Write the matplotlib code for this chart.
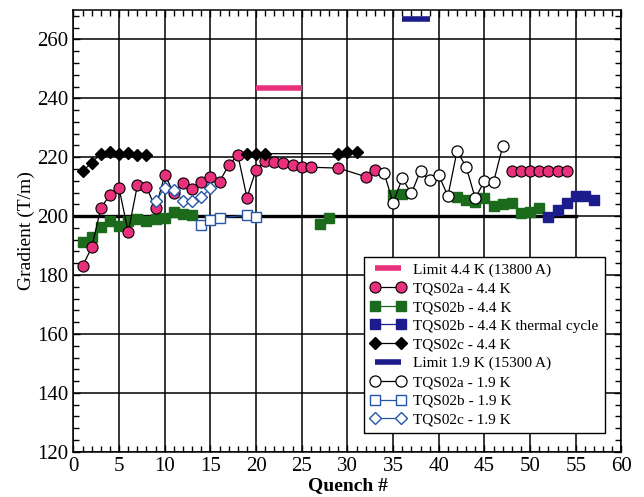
import matplotlib
matplotlib.use('Agg')
import matplotlib.pyplot as plt
from matplotlib.ticker import MultipleLocator

plt.rcParams['font.family'] = ['Liberation Serif', 'DejaVu Serif']

# TQS02a - 4.4 K
a44_x = [1, 2, 3, 4, 5, 6, 7, 8, 9, 10, 11, 12, 13, 14, 15, 16, 17, 18, 19, 20,
         21, 22, 23, 24, 25, 26, 29, 32, 33]
a44_y = [183, 189.4, 202.7, 207.3, 209.4, 194.6, 210.4, 209.9, 202.6, 214,
         207.8, 211.2, 209.2, 211.5, 213.2, 211.7, 217.3, 220.8, 206.3, 215.8,
         218.7, 218.4, 218, 217.4, 216.7, 216.6, 216.3, 213.4, 215.5]
a44b_x = [48, 49, 50, 51, 52, 53, 54]
a44b_y = [215.2, 215.2, 215.2, 215.2, 215.2, 215.2, 215.2]

# TQS02b - 4.4 K
b44_x = [1, 2, 3, 4, 5, 6, 7, 8, 9, 10, 11, 12, 13]
b44_y = [191.2, 193, 196.3, 198.2, 196.8, 198.3, 199, 198.4, 199, 199.2, 201.3, 200.6, 200.5]
b44b_x = [27, 28]
b44b_y = [197.3, 199.2]
b44c_x = [35, 36]
b44c_y = [207.1, 207.6]
b44d_x = [42, 43, 44, 45, 46, 47, 48, 49, 50, 51]
b44d_y = [206.5, 205.4, 204.9, 206, 203.4, 204, 204.6, 200.9, 201.5, 202.6]

# TQS02b - 4.4 K thermal cycle
btc_x = [52, 53, 54, 55, 56, 57]
btc_y = [199.6, 202, 204.6, 206.7, 207, 205.4]

# TQS02c - 4.4 K
c44_x = [1, 2, 3, 4, 5, 6, 7, 8]
c44_y = [215.2, 218.2, 221.1, 221.8, 221.2, 221.6, 220.6, 220.6]
c44b_x = [19, 20, 21, 29, 30, 31]
c44b_y = [221.2, 221.2, 221.2, 221.2, 221.8, 221.8]

# TQS02a - 1.9 K
a19_x = [34, 35, 36, 37, 38, 39, 40, 41, 42, 43, 44, 45, 46, 47]
a19_y = [214.8, 204.5, 212.8, 207.7, 215.4, 212.2, 213.9, 206.8, 222.1,
         216.7, 206, 212, 211.6, 223.7]

# TQS02b - 1.9 K
b19_x = [14, 15, 16, 19, 20]
b19_y = [197.1, 198.6, 199.4, 200.3, 199.8]

# TQS02c - 1.9 K
c19_x = [9, 10, 11, 12, 13, 14, 15]
c19_y = [205.2, 209.4, 209, 205.1, 205, 206.5, 209.4]

# current limits
lim44_x = [20, 25]
lim44_y = [243.5, 243.5]
lim19_x = [36, 39]
lim19_y = [266.8, 266.8]

pink = '#e8307c'
green = '#1c6b1c'
navy = '#1c1c8c'
blue = '#2455a8'

fig = plt.figure(figsize=(6.44, 4.97), dpi=100)
ax = fig.add_axes([0.114, 0.091, 0.851, 0.889])

ax.grid(True, color='black', linewidth=1.1)
ax.set_axisbelow(True)
ax.plot([0, 55], [200, 200], color='black', linewidth=2.4, zorder=2)

ax.plot(lim44_x, lim44_y, color=pink, linewidth=4, solid_capstyle='butt',
        label='Limit 4.4 K (13800 A)', zorder=3)

ax.plot(a44_x, a44_y, '-o', color='black', mfc=pink, mec='black', ms=8, mew=0.8,
        lw=0.9, label='TQS02a - 4.4 K', zorder=4)
ax.plot(a44b_x, a44b_y, '-o', color='black', mfc=pink, mec='black', ms=8, mew=0.8,
        lw=0.9, zorder=4)

first = True
for xs, ys in [(b44_x, b44_y), (b44b_x, b44b_y), (b44c_x, b44c_y), (b44d_x, b44d_y)]:
    ax.plot(xs, ys, '-s', color=green, mfc=green, mec=green, ms=6.5, lw=0.9,
            label='TQS02b - 4.4 K' if first else None, zorder=3)
    first = False

ax.plot(btc_x, btc_y, '-s', color=navy, mfc=navy, mec=navy, ms=6.5, lw=0.9,
        label='TQS02b - 4.4 K thermal cycle', zorder=3)

ax.plot(c44_x, c44_y, '-D', color='black', ms=6, lw=0.9, label='TQS02c - 4.4 K', zorder=4)
ax.plot(c44b_x, c44b_y, '-D', color='black', ms=6, lw=0.9, zorder=4)

ax.plot(lim19_x, lim19_y, color=navy, linewidth=4, solid_capstyle='butt',
        label='Limit 1.9 K (15300 A)', zorder=3)

ax.plot(a19_x, a19_y, '-o', color='black', mfc='white', mec='black', ms=8, mew=0.9,
        lw=0.9, label='TQS02a - 1.9 K', zorder=4)
ax.plot(b19_x, b19_y, '-s', color=blue, mfc='white', mec=blue, ms=7, mew=1,
        lw=0.9, label='TQS02b - 1.9 K', zorder=4)
ax.plot(c19_x, c19_y, '-D', color=blue, mfc='white', mec=blue, ms=6.5, mew=1,
        lw=0.9, label='TQS02c - 1.9 K', zorder=4)

ax.set_xlim(0, 60)
ax.set_ylim(120, 270)
ax.xaxis.set_major_locator(MultipleLocator(5))
ax.xaxis.set_minor_locator(MultipleLocator(1))
ax.yaxis.set_major_locator(MultipleLocator(20))
ax.yaxis.set_minor_locator(MultipleLocator(4))
ax.tick_params(which='both', direction='in', top=True, right=True, labelsize=15)
ax.tick_params(which='major', length=5, width=1)
ax.tick_params(which='minor', length=4, width=1)
for s in ax.spines.values():
    s.set_linewidth(1.1)

ax.set_xlabel('Quench #', fontsize=14, fontweight='bold', labelpad=1)
ax.set_ylabel('Gradient (T/m)', fontsize=14, labelpad=2)

leg = ax.legend(loc='lower left', bbox_to_anchor=(0.531, 0.043), fontsize=11,
                numpoints=2, fancybox=False, framealpha=1, edgecolor='black',
                handlelength=2.3, handletextpad=0.5, labelspacing=0.33,
                borderpad=0.4, borderaxespad=0)
leg.get_frame().set_linewidth(1)

fig.savefig('out.png', dpi=100)
